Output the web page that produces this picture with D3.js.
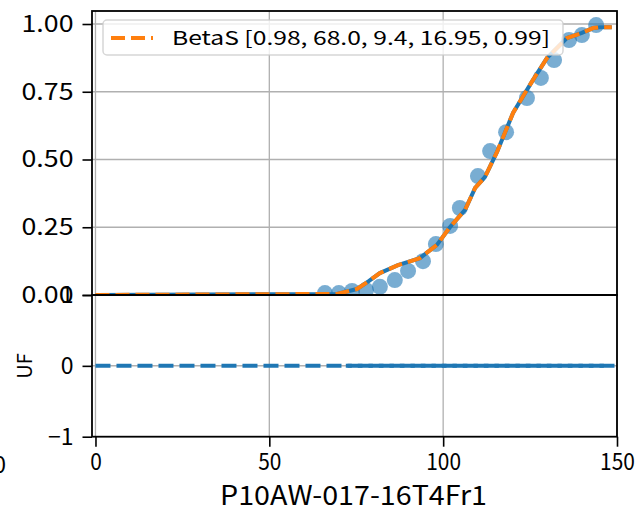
<!DOCTYPE html>
<html><head><meta charset="utf-8">
<script src="https://cdn.jsdelivr.net/npm/d3@7"></script>
<style>body{margin:0;background:#fff}svg{display:block}text{font-family:"Noto Sans CJK JP","Noto Sans",sans-serif;fill:#000}</style>
</head><body><svg id="c" width="640" height="514"></svg>
<script>
// ---- data ----
const obsX = [66,70,73.8,77.8,81.8,86.1,89.9,94.2,97.9,102,104.8,110,113.5,118.1,124.1,128.1,131.9,136.2,139.9,144];
const obsY = [0.007,0.007,0.015,0.018,0.03,0.055,0.089,0.125,0.188,0.255,0.321,0.439,0.531,0.601,0.727,0.801,0.867,0.941,0.959,0.996];
const fitX = [0,69.5,75.2,78.5,81.8,87,93.3,98.2,102,106.3,109.2,112,115.5,120.1,125.8,129.9,135.6,139.9,143.1,145,148.5];
const fitY = [0,0.004,0.022,0.05,0.081,0.11,0.136,0.185,0.251,0.314,0.395,0.435,0.528,0.672,0.793,0.875,0.948,0.967,0.985,0.988,0.988];
const ufX1 = [0,150];
const ufX2 = [72,147];
const ufY = [0,0];
const xTicks = [0,50,100,150];
const yTopTicks = [0,0.25,0.5,0.75,1.0];
const yBotTicks = [-1,0,1];
const legendLabel = "BetaS [0.98, 68.0, 9.4, 16.95, 0.99]";
const xLabel = "P10AW-017-16T4Fr1";
const yBotLabel = "UF";

const svg = d3.select("#c");
const L=92,R=617,T=11,M=295,B=436.7;
const x = d3.scaleLinear().domain([-1,150]).range([L,R]);
const yT = d3.scaleLinear().domain([0,1.048]).range([M,T]);
const yB = d3.scaleLinear().domain([-1,1]).range([B,M]);
const blue="#1f77b4", orange="#ff7f0e", grid="#b0b0b0";

const defs = svg.append("defs");
defs.append("clipPath").attr("id","ct").append("rect").attr("x",L).attr("y",T).attr("width",R-L).attr("height",M-T);
defs.append("clipPath").attr("id","cb").append("rect").attr("x",L).attr("y",M).attr("width",R-L).attr("height",B-M);

// grids
const gT = svg.append("g");
gT.selectAll("line.vx").data(xTicks).join("line").attr("x1",d=>x(d)).attr("x2",d=>x(d)).attr("y1",T).attr("y2",M).attr("stroke",grid).attr("stroke-width",1.3);
gT.selectAll("line.hy").data(yTopTicks).join("line").attr("x1",L).attr("x2",R).attr("y1",d=>yT(d)).attr("y2",d=>yT(d)).attr("stroke",grid).attr("stroke-width",1.5);
const gB = svg.append("g");
gB.selectAll("line.vx").data(xTicks).join("line").attr("x1",d=>x(d)).attr("x2",d=>x(d)).attr("y1",M).attr("y2",B).attr("stroke",grid).attr("stroke-width",1.3);
gB.selectAll("line.hy").data([0]).join("line").attr("x1",L).attr("x2",R).attr("y1",d=>yB(d)).attr("y2",d=>yB(d)).attr("stroke",grid).attr("stroke-width",1.5);

// top plot
const pt = svg.append("g").attr("clip-path","url(#ct)");
pt.selectAll("circle").data(obsX.map((d,i)=>[d,obsY[i]])).join("circle")
  .attr("cx",d=>x(d[0])).attr("cy",d=>yT(d[1])).attr("r",8).attr("fill",blue).attr("fill-opacity",0.6);
const line = d3.line().x(d=>x(d[0])).y(d=>yT(d[1]));
const fit = fitX.map((d,i)=>[d,fitY[i]]);
pt.append("path").attr("d",line(fit)).attr("fill","none").attr("stroke",blue).attr("stroke-width",4);
pt.append("path").attr("d",line(fit)).attr("fill","none").attr("stroke",orange).attr("stroke-width",4).attr("stroke-dasharray","14,6");

// bottom plot
const pb = svg.append("g").attr("clip-path","url(#cb)");
const lineB = d3.line().x(d=>x(d[0])).y(d=>yB(d[1]));
pb.append("path").attr("d",lineB(ufX1.map((d,i)=>[d,ufY[i]]))).attr("fill","none").attr("stroke",blue).attr("stroke-width",4).attr("stroke-dasharray","15,6");
pb.append("path").attr("d",lineB(ufX2.map((d,i)=>[d,ufY[i]]))).attr("fill","none").attr("stroke",blue).attr("stroke-width",4).attr("stroke-dasharray","15,6").attr("stroke-dashoffset",9);

// spines
const sp = svg.append("g").attr("fill","none").attr("stroke","#000").attr("stroke-width",1.8);
sp.append("rect").attr("x",L).attr("y",T).attr("width",R-L).attr("height",M-T);
sp.append("rect").attr("x",L).attr("y",M).attr("width",R-L).attr("height",B-M);

// axes ticks
function styleAxis(g, fn){
  g.select(".domain").remove();
  g.selectAll(".tick line").attr("stroke","#000").attr("stroke-width",1.6);
  g.selectAll(".tick text").style("font-size","23px").attr("font-family",null).each(fn||(()=>{}));
}
const axL = svg.append("g").attr("transform",`translate(${L},0)`)
  .call(d3.axisLeft(yT).tickValues(yTopTicks).tickFormat(d3.format(".2f")).tickSize(9.5).tickPadding(9));
styleAxis(axL,function(d){d3.select(this).attr("textLength",52).attr("lengthAdjust","spacingAndGlyphs");});
const axLB = svg.append("g").attr("transform",`translate(${L},0)`)
  .call(d3.axisLeft(yB).tickValues(yBotTicks).tickFormat(d=>d<0?"\u2212"+Math.abs(d):String(d)).tickSize(9.5).tickPadding(9));
styleAxis(axLB);
const axX = svg.append("g").attr("transform",`translate(0,${B})`)
  .call(d3.axisBottom(x).tickValues(xTicks).tickSize(10).tickPadding(7));
styleAxis(axX,function(d){const s=String(d);d3.select(this).attr("textLength",s.length*11.6).attr("lengthAdjust","spacingAndGlyphs");});

// stray clipped label at far left
svg.append("text").attr("x",6).attr("y",473).attr("text-anchor","end").style("font-size","23px").text("0");

// labels
svg.append("text").attr("x",353.5).attr("y",505).attr("text-anchor","middle").style("font-size","27px")
  .attr("textLength",267).attr("lengthAdjust","spacingAndGlyphs").text(xLabel);
svg.append("text").attr("transform",`translate(32,366) rotate(-90)`).attr("text-anchor","middle").style("font-size","20px").text(yBotLabel);

// legend
const lg = svg.append("g");
lg.append("rect").attr("x",103).attr("y",20).attr("width",460).attr("height",35).attr("rx",4)
  .attr("fill","#fff").attr("fill-opacity",0.8).attr("stroke","#cccccc").attr("stroke-opacity",0.8).attr("stroke-width",1.5);
lg.append("line").attr("x1",111).attr("x2",153).attr("y1",38).attr("y2",38).attr("stroke",orange).attr("stroke-width",4).attr("stroke-dasharray","14,6");
lg.append("text").attr("x",172).attr("y",45).style("font-size","19px").attr("textLength",378).attr("lengthAdjust","spacingAndGlyphs").text(legendLabel);
</script></body></html>
